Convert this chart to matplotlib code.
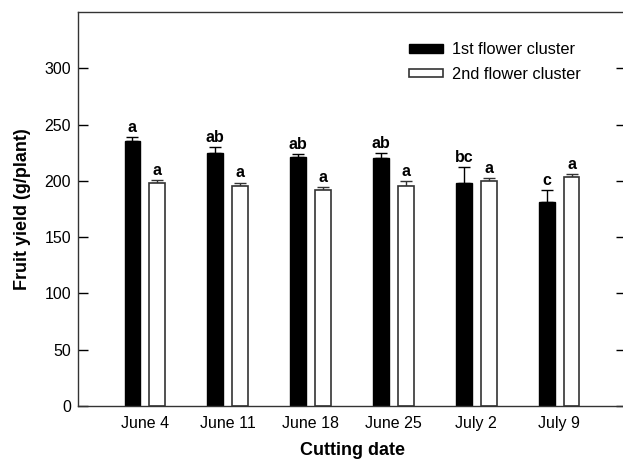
import matplotlib
matplotlib.use("Agg")
import matplotlib.pyplot as plt
import numpy as np

plt.rcParams['font.family'] = ['Liberation Sans', 'DejaVu Sans']

dates = ["June 4", "June 11", "June 18", "June 25", "July 2", "July 9"]
first_cluster = [235, 225, 221.5, 220, 198, 181]
first_err = [4, 5, 2, 5, 14, 11]
second_cluster = [198, 195, 192, 195, 200, 203]
second_err = [3, 3.5, 2.5, 5, 2.5, 3]
first_letters = ["a", "ab", "ab", "ab", "bc", "c"]
second_letters = ["a", "a", "a", "a", "a", "a"]

fig = plt.figure(figsize=(6.23, 4.62), dpi=100)
ax = fig.add_axes([78/623, 56/462, 548/623, 394/462])

x = np.arange(len(dates))
w = 0.19
off = 0.148
b1 = ax.bar(x - off, first_cluster, w, color='black', edgecolor='black', linewidth=1,
            label='1st flower cluster', zorder=2)
b2 = ax.bar(x + off, second_cluster, w, color='white', edgecolor='#333333', linewidth=1.2,
            label='2nd flower cluster', zorder=2)
ax.errorbar(x - off, first_cluster, yerr=[np.zeros(len(x)), first_err], fmt='none',
            ecolor='black', elinewidth=1, capsize=4.3, capthick=1, zorder=1)
ax.errorbar(x + off, second_cluster, yerr=[np.zeros(len(x)), second_err], fmt='none',
            ecolor='#333333', elinewidth=1, capsize=4.3, capthick=1, zorder=1)

for xi, v, e, t in zip(x - off, first_cluster, first_err, first_letters):
    ax.annotate(t, (xi, v + e), xytext=(0, 1.5), textcoords='offset points',
                ha='center', va='bottom', fontsize=11.5, fontweight='bold')
for xi, v, e, t in zip(x + off, second_cluster, second_err, second_letters):
    ax.annotate(t, (xi, v + e), xytext=(0, 1.5), textcoords='offset points',
                ha='center', va='bottom', fontsize=11.5, fontweight='bold')

ax.set_xlim(-0.805, 5.805)
ax.set_ylim(0, 350)
ax.set_yticks([0, 50, 100, 150, 200, 250, 300])
ax.set_xticks(x)
ax.set_xticklabels(dates)
ax.tick_params(axis='y', direction='in', length=7, width=1, right=True, labelsize=11.5, pad=5)
ax.tick_params(axis='x', length=0, labelsize=11.5, pad=7)
for s in ax.spines.values():
    s.set_linewidth(1)
    s.set_color('#333333')

ax.set_xlabel('Cutting date', fontsize=13, fontweight='bold', labelpad=8)
ax.set_ylabel('Fruit yield (g/plant)', fontsize=13, fontweight='bold', labelpad=10)

ax.legend(handles=[b1, b2], loc='upper left', bbox_to_anchor=(409/623, 1 - 42/462),
          bbox_transform=fig.transFigure, frameon=False, fontsize=11.8,
          handlelength=2.1, handleheight=0.45, handletextpad=0.5, labelspacing=0.6,
          borderpad=0, borderaxespad=0)

fig.savefig('out.png', dpi=100)
